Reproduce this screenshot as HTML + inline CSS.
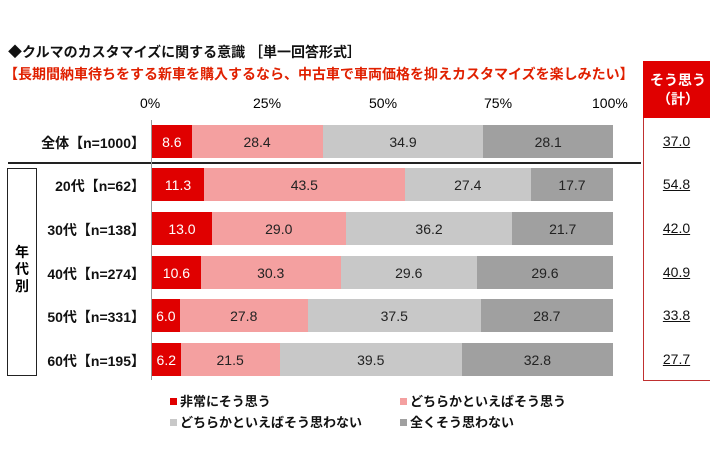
<!DOCTYPE html><html><head><meta charset="utf-8"><style>
body{margin:0;width:710px;height:474px;background:#fff;position:relative;overflow:hidden;font-family:"Liberation Sans","Noto Sans CJK JP",sans-serif;font-weight:bold}
div{position:absolute;box-sizing:border-box}
.bar{height:33px;left:152px;width:461px;display:flex}
.bar span{display:flex;align-items:center;justify-content:center;font-size:14px;font-weight:normal;color:#222;height:100%}
.a{background:#e00000;color:#fff!important}.b{background:#f4a0a0}.c{background:#c8c8c8}.d{background:#a0a0a0}
.lab{left:40px;width:105px;text-align:right;font-size:14px;color:#111}
.v{left:643px;width:67px;text-align:center;font-size:14px;font-weight:normal;text-decoration:underline;color:#111}
.ax{font-size:14px;font-weight:normal;top:95px}
.lg{font-size:13px;color:#111}
.lg i{display:inline-block;width:7px;height:7px;margin-right:3px;vertical-align:1px}
</style></head><body>
<div style="left:8px;top:42px;font-size:14px;color:#111">◆クルマのカスタマイズに関する意識 ［単一回答形式］</div>
<div style="left:4px;top:64px;font-size:14px;color:#e02000">【長期間納車待ちをする新車を購入するなら、中古車で車両価格を抑えカスタマイズを楽しみたい】</div>
<div class="ax" style="left:140px">0%</div><div class="ax" style="left:253px">25%</div><div class="ax" style="left:369px">50%</div><div class="ax" style="left:484px">75%</div><div class="ax" style="left:592px">100%</div>
<div style="left:643px;top:61px;width:70px;height:320px;border:1.5px solid #c03030"></div>
<div style="left:643px;top:61px;width:70px;height:57px;background:#e00000;color:#fff;font-size:14px;text-align:center;padding-top:10px;line-height:19px">そう思う<br>（計）</div>
<div style="left:8px;top:162px;width:633px;height:2px;background:#222"></div>
<div style="left:7px;top:168px;width:30px;height:208px;border:1.5px solid #222;font-size:14px;text-align:center;padding-top:75px;line-height:17px">年<br>代<br>別</div>
<div style="left:151px;top:120px;width:1px;height:260px;background:#999"></div>

<div class="lab" style="top:133px">全体【n=1000】</div>
<div class="bar" style="top:125px"><span class="a" style="width:8.6%">8.6</span><span class="b" style="width:28.4%">28.4</span><span class="c" style="width:34.9%">34.9</span><span class="d" style="width:28.1%">28.1</span></div>
<div class="v" style="top:133px">37.0</div>

<div class="lab" style="top:176px">20代【n=62】</div>
<div class="bar" style="top:168px"><span class="a" style="width:11.3%">11.3</span><span class="b" style="width:43.5%">43.5</span><span class="c" style="width:27.4%">27.4</span><span class="d" style="width:17.8%">17.7</span></div>
<div class="v" style="top:176px">54.8</div>

<div class="lab" style="top:220px">30代【n=138】</div>
<div class="bar" style="top:212px"><span class="a" style="width:13%">13.0</span><span class="b" style="width:29%">29.0</span><span class="c" style="width:36.2%">36.2</span><span class="d" style="width:21.8%">21.7</span></div>
<div class="v" style="top:220px">42.0</div>

<div class="lab" style="top:264px">40代【n=274】</div>
<div class="bar" style="top:256px"><span class="a" style="width:10.6%">10.6</span><span class="b" style="width:30.3%">30.3</span><span class="c" style="width:29.6%">29.6</span><span class="d" style="width:29.5%">29.6</span></div>
<div class="v" style="top:264px">40.9</div>

<div class="lab" style="top:307px">50代【n=331】</div>
<div class="bar" style="top:299px"><span class="a" style="width:6%">6.0</span><span class="b" style="width:27.8%">27.8</span><span class="c" style="width:37.5%">37.5</span><span class="d" style="width:28.7%">28.7</span></div>
<div class="v" style="top:307px">33.8</div>

<div class="lab" style="top:351px">60代【n=195】</div>
<div class="bar" style="top:343px"><span class="a" style="width:6.2%">6.2</span><span class="b" style="width:21.5%">21.5</span><span class="c" style="width:39.5%">39.5</span><span class="d" style="width:32.8%">32.8</span></div>
<div class="v" style="top:351px">27.7</div>

<div class="lg" style="left:170px;top:391px"><i style="background:#e00000"></i>非常にそう思う</div>
<div class="lg" style="left:400px;top:391px"><i style="background:#f4a0a0"></i>どちらかといえばそう思う</div>
<div class="lg" style="left:170px;top:412px"><i style="background:#c8c8c8"></i>どちらかといえばそう思わない</div>
<div class="lg" style="left:400px;top:412px"><i style="background:#a0a0a0"></i>全くそう思わない</div>
</body></html>
